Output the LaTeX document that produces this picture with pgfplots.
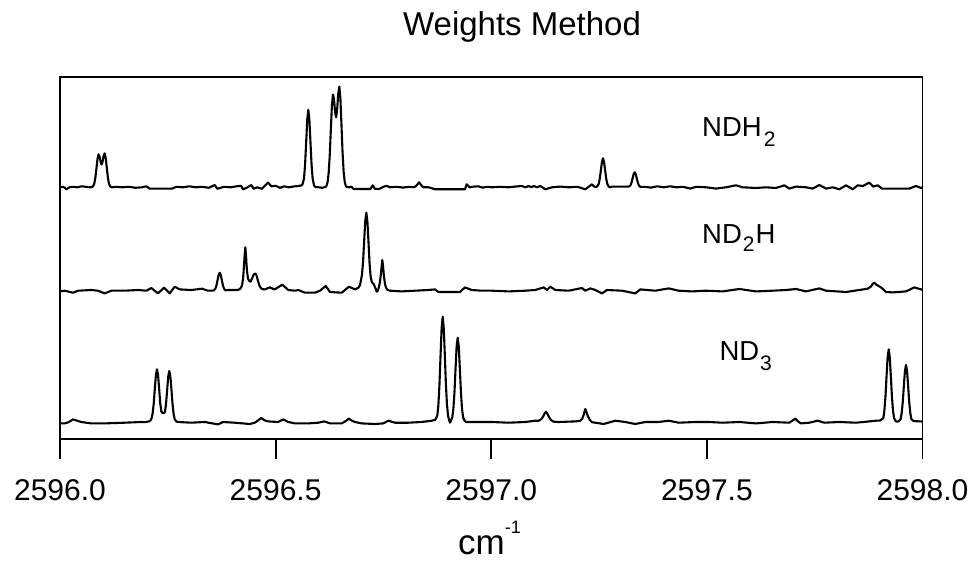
\documentclass[border=0pt]{standalone}
\usepackage{fontspec}
\setmainfont{Liberation Sans}
\usepackage{pgfplots}
\usepackage{pgfplotstable}
\pgfplotsset{compat=1.18}

\pgfplotstableread{
x y
2596.0000 0
2596.0080 0.5
2596.0150 -2
2596.0220 0
2596.0300 0.5
2596.0400 0
2596.0500 1
2596.0600 0.5
2596.0690 0
2596.0725 0.1
2596.0760 0.6
2596.0795 3.7
2596.0820 9.6
2596.0845 18.9
2596.0870 28.5
2596.0895 33.0
2596.0920 30.3
2596.0945 24.7
2596.0965 22.8
2596.0985 25.1
2596.1010 31.1
2596.1035 34.0
2596.1060 29.3
2596.1085 19.5
2596.1110 9.9
2596.1135 3.8
2596.1170 0.6
2596.1205 0
2596.1300 0.5
2596.1450 0
2596.1600 0.5
2596.1750 -0.5
2596.1900 0
2596.2000 1
2596.2080 -1.3
2596.2600 -1.3
2596.2700 0.5
2596.2850 0
2596.3000 1
2596.3150 0
2596.3300 0.5
2596.3450 -0.5
2596.3587 2.3
2596.3650 -1.5
2596.3800 0.5
2596.3950 0
2596.4100 1
2596.4200 1.5
2596.4240 -2
2596.4330 -0.5
2596.4436 2.3
2596.4490 -1.5
2596.4570 0
2596.4680 -1.5
2596.4760 2
2596.4823 4.7
2596.4900 1
2596.5000 1.5
2596.5100 -0.5
2596.5200 1
2596.5300 0
2596.5450 1
2596.5520 1.2
2596.5588 1.8
2596.5623 2.8
2596.5658 8.8
2596.5683 22.9
2596.5708 45.0
2596.5733 67.7
2596.5758 77.5
2596.5783 67.7
2596.5808 45.0
2596.5833 22.9
2596.5858 8.8
2596.5893 1.5
2596.5928 0.2
2596.6000 0
2596.6080 -0.5
2596.6155 0.3
2596.6180 1.4
2596.6205 5.1
2596.6230 14.3
2596.6255 32.1
2596.6280 57.4
2596.6305 81.5
2596.6330 92.8
2596.6355 87.4
2596.6380 74.7
2596.6403 69.9
2596.6425 77.1
2596.6450 92.8
2596.6477 100.7
2596.6502 88.6
2596.6527 62.4
2596.6552 34.9
2596.6577 15.5
2596.6602 5.5
2596.6627 1.5
2596.6652 0.3
2596.6700 0
2596.6750 0.7
2596.6810 -1.7
2596.7200 -1.7
2596.7251 2
2596.7300 -1.5
2596.7400 -1.7
2596.7500 0.5
2596.7575 1.5
2596.7650 0
2596.7800 0.5
2596.7950 -0.3
2596.8100 0.5
2596.8200 0
2596.8250 1
2596.8290 3
2596.8325 5
2596.8370 2.5
2596.8420 0
2596.8550 0
2596.8696 -2
2596.9391 -2
2596.9430 3
2596.9500 0
2596.9600 0.7
2596.9700 1
2596.9800 -0.3
2596.9900 0.5
2597.0017 0
2597.0200 0.5
2597.0404 0
2597.0550 0.7
2597.0713 1.3
2597.0790 0
2597.0868 1.3
2597.0930 0
2597.0984 1.3
2597.1060 0
2597.1137 1.3
2597.1254 -2
2597.1408 0
2597.1600 0.7
2597.1796 0
2597.2000 0.5
2597.2181 -2
2597.2336 3
2597.2380 1
2597.2421 0.3
2597.2456 0.7
2597.2491 3.3
2597.2516 8.6
2597.2541 16.8
2597.2566 25.3
2597.2591 29
2597.2616 25.3
2597.2641 16.8
2597.2666 8.6
2597.2691 3.3
2597.2726 0.6
2597.2761 0
2597.2800 0.7
2597.3187 0.7
2597.3226 1.7
2597.3251 4.4
2597.3276 8.7
2597.3301 13.1
2597.3326 15
2597.3351 13.1
2597.3376 8.7
2597.3401 4.4
2597.3426 1.7
2597.3461 0.3
2597.3550 0.5
2597.3700 -0.3
2597.3850 1
2597.4000 0
2597.4150 1
2597.4300 0
2597.4450 0.5
2597.4616 -1.3
2597.4750 0.5
2597.4980 0
2597.5211 -1.3
2597.5443 0
2597.5675 2
2597.5830 0
2597.6139 -0.7
2597.6371 0
2597.6603 -0.7
2597.6796 2
2597.6911 -1.3
2597.7066 0.7
2597.7298 0
2597.7453 -1.3
2597.7607 2.3
2597.7762 -1.3
2597.7917 0
2597.8071 -2
2597.8226 2
2597.8381 -2
2597.8497 2
2597.8613 1.3
2597.8767 4.7
2597.8859 0.7
2597.8961 2
2597.9061 -1.3
2597.9694 -1.3
2597.9849 1.3
2597.9965 -0.7
2598.0000 0
}\ndhtwo

\pgfplotstableread{
x y
2596.0000 -0.7
2596.0108 0
2596.0301 -2
2596.0417 0
2596.0726 0.7
2596.0881 0
2596.1036 -2.7
2596.1190 0
2596.1499 0
2596.1809 0.7
2596.2002 0
2596.2118 2.7
2596.2272 -2.7
2596.2412 3
2596.2544 -2.7
2596.2659 4
2596.2776 1.3
2596.3045 0.7
2596.3293 2
2596.3432 0
2596.3533 0
2596.3568 0.3
2596.3603 2
2596.3628 5.3
2596.3653 10.5
2596.3678 15.7
2596.3703 18
2596.3728 15.7
2596.3753 10.5
2596.3778 5.3
2596.3803 2
2596.3838 0.3
2596.3896 0.7
2596.4127 0.7
2596.4180 2
2596.4220 5
2596.4245 12
2596.4265 24
2596.4282 36
2596.4297 43.4
2596.4315 34
2596.4335 20
2596.4360 12
2596.4395 9.5
2596.4421 9
2596.4450 12
2596.4490 16
2596.4520 17
2596.4538 17
2596.4560 15
2596.4590 10
2596.4625 5
2596.4660 2.5
2596.4700 1.5
2596.4747 1.3
2596.4862 3.3
2596.4978 1.3
2596.5155 6
2596.5294 0.7
2596.5449 0
2596.5526 0.7
2596.5681 -2
2596.5913 -2
2596.6029 0
2596.6161 4.7
2596.6261 -1.3
2596.6532 -2
2596.6701 4
2596.6840 1.3
2596.6920 3
2596.6957 5.7
2596.7003 16
2596.7028 29.5
2596.7053 50
2596.7078 69.5
2596.7103 78
2596.7128 69.5
2596.7153 49.1
2596.7178 27.5
2596.7203 14
2596.7228 9
2596.7250 7.5
2596.7275 6.5
2596.7310 3
2596.7345 -1
2596.7370 0
2596.7395 3.5
2596.7420 9
2596.7445 18
2596.7460 25
2596.7474 30.7
2596.7490 25
2596.7510 15
2596.7535 7
2596.7560 3
2596.7590 1
2596.7652 0
2596.7923 -0.7
2596.8232 0
2596.8540 0.7
2596.8696 1.3
2596.8773 -1.3
2596.9275 -1.3
2596.9391 3.3
2596.9546 0.7
2596.9778 0
2597.0010 0
2597.0404 -0.7
2597.0790 0
2597.1021 0.7
2597.1216 3.3
2597.1293 0.7
2597.1369 4
2597.1485 0.7
2597.1796 0
2597.2104 2.7
2597.2181 0
2597.2297 2.3
2597.2413 0.7
2597.2568 -2.7
2597.2684 0.7
2597.3032 0
2597.3340 -2.7
2597.3456 1.3
2597.3804 0
2597.4114 2.3
2597.4346 0
2597.4655 -0.7
2597.4964 0
2597.5366 -0.7
2597.5752 1.7
2597.6139 -0.7
2597.6526 0
2597.6835 0.7
2597.7066 1.7
2597.7298 -0.7
2597.7607 2.3
2597.7762 0
2597.8226 -1.3
2597.8535 0.7
2597.8729 2
2597.8800 4
2597.8850 7
2597.8883 8
2597.8930 6
2597.9038 3.3
2597.9154 -1.3
2597.9308 -1.7
2597.9617 -0.7
2597.9810 3.3
2597.9965 1.3
2598.0000 1
}\ndtwoh

\pgfplotstableread{
x y
2596.0000 -0.7
2596.0108 -0.7
2596.0200 0.5
2596.0301 3.3
2596.0494 0.7
2596.0726 -0.7
2596.1036 -0.7
2596.1499 0
2596.1885 0.7
2596.1950 0.5
2596.2057 1.2
2596.2100 2.2
2596.2124 4.5
2596.2149 9.5
2596.2174 19.5
2596.2199 34
2596.2224 47.5
2596.2249 53.4
2596.2274 47.5
2596.2299 34
2596.2324 19.5
2596.2349 11.5
2596.2372 10
2596.2395 9.4
2596.2418 10
2596.2435 11
2596.2460 19.5
2596.2485 33
2596.2510 46.5
2596.2535 51.7
2596.2560 46
2596.2585 32.5
2596.2610 18.5
2596.2635 8.5
2596.2660 3.5
2596.2697 1.2
2596.2740 0.7
2596.3045 0
2596.3355 0.7
2596.3664 -1.7
2596.3780 0.7
2596.4051 0
2596.4399 -1.3
2596.4515 0
2596.4600 2.5
2596.4668 4.7
2596.4740 2.5
2596.4823 1.3
2596.5055 0.7
2596.5178 3.3
2596.5294 0.7
2596.5449 -0.7
2596.5758 -0.7
2596.5990 0
2596.6129 1.3
2596.6261 -0.7
2596.6532 -0.7
2596.6620 1.5
2596.6701 4
2596.6770 2
2596.6840 0.7
2596.6996 -0.7
2596.7304 -1.3
2596.7497 -0.7
2596.7613 2
2596.7768 0
2596.8077 0
2596.8387 0.7
2596.8619 2
2596.8700 2.8
2596.8749 7
2596.8774 17.5
2596.8799 38
2596.8824 67
2596.8849 94.5
2596.8874 106
2596.8899 94.5
2596.8924 67
2596.8949 38
2596.8974 17.5
2596.8999 7
2596.9022 2.5
2596.9043 0
2596.9065 2
2596.9097 5.5
2596.9122 14
2596.9147 30.5
2596.9172 54
2596.9197 76
2596.9222 85
2596.9247 76
2596.9272 54
2596.9297 30.5
2596.9322 14
2596.9347 5.5
2596.9380 2
2596.9420 0.7
2596.9623 0.7
2597.0010 0.7
2597.0404 0
2597.0790 0.7
2597.1021 2
2597.1100 2
2597.1160 3.5
2597.1200 6
2597.1235 9
2597.1269 11
2597.1300 9
2597.1340 5.5
2597.1390 2.5
2597.1447 1
2597.1564 0.7
2597.1949 1.3
2597.2065 2
2597.2110 4
2597.2145 8
2597.2165 11.5
2597.2181 13.7
2597.2205 11
2597.2240 6.5
2597.2290 2.5
2597.2336 0.5
2597.2607 -1.3
2597.2877 2
2597.3109 0.7
2597.3340 -1.3
2597.3572 0.7
2597.3882 0.7
2597.4114 2
2597.4346 0
2597.4732 0.7
2597.5042 0.7
2597.5366 0
2597.5752 0.7
2597.6139 -0.7
2597.6526 0.7
2597.6911 0
2597.6980 2
2597.7050 4
2597.7120 1
2597.7183 -0.7
2597.7375 0
2597.7569 2
2597.7723 0
2597.8071 0.7
2597.8458 0
2597.8767 1.3
2597.8922 2
2597.9020 2.2
2597.9091 4.5
2597.9116 12
2597.9141 26
2597.9166 46.5
2597.9191 65.5
2597.9216 73.4
2597.9241 65.5
2597.9266 46.5
2597.9291 26
2597.9316 12
2597.9341 4.5
2597.9380 1.5
2597.9410 1
2597.9450 1.5
2597.9492 3.5
2597.9517 9.5
2597.9542 20.5
2597.9567 36.5
2597.9592 51.5
2597.9617 57.7
2597.9642 51.5
2597.9667 36.5
2597.9692 20.5
2597.9717 9.5
2597.9742 3.5
2597.9790 1.8
2597.9849 1.5
2597.9965 1.3
2598.0000 1
}\ndthree

\begin{document}
\begin{tikzpicture}
\path[use as bounding box] (0,0) rectangle (974pt,560pt);
\begin{axis}[
  at={(60pt,121pt)}, anchor=south west,
  scale only axis, width=862.5pt, height=362pt,
  xmin=2596, xmax=2598, ymin=0, ymax=362,
  axis line style={line width=1.8pt},
  ytick=\empty,
  xtick={2596,2596.5,2597,2597.5,2598},
  xticklabels={2596.0,2596.5,2597.0,2597.5,2598.0},
  scaled x ticks=false,
  xtick pos=bottom,
  xtick align=outside,
  major tick length=20pt,
  every major tick/.append style={draw=black, line width=1.9pt},
  xticklabel style={font=\fontsize{30}{36}\selectfont, anchor=north, inner sep=0pt, yshift=-20pt},
  title={Weights Method},
  title style={font=\fontsize{33}{38}\selectfont, at={(axis description cs:0.5357,1.0994)}, anchor=base, inner sep=0pt},
  xlabel={cm\raisebox{21pt}{\fontsize{18}{22}\selectfont -1}},
  xlabel style={font=\fontsize{35}{40}\selectfont, at={(axis description cs:0.498,-0.3177)}, anchor=base, inner sep=0pt},
  clip=true,
]
\addplot[black, line width=2.1pt, line join=round] table[x=x, y expr=\thisrow{y}+251.7] {\ndhtwo};
\addplot[black, line width=2.1pt, line join=round] table[x=x, y expr=\thisrow{y}+148.3] {\ndtwoh};
\addplot[black, line width=2.1pt, line join=round] table[x=x, y expr=\thisrow{y}+16.3] {\ndthree};
\node[anchor=base west, inner sep=0pt, font=\fontsize{27.5}{32}\selectfont] at (axis cs:2597.4887,302.3) {NDH\kern2pt\raisebox{-10pt}{\fontsize{21}{24}\selectfont 2}};
\node[anchor=base west, inner sep=0pt, font=\fontsize{27.5}{32}\selectfont] at (axis cs:2597.4887,195.7) {ND\kern1pt\raisebox{-8pt}{\fontsize{21}{24}\selectfont 2}\kern1pt H};
\node[anchor=base west, inner sep=0pt, font=\fontsize{27.5}{32}\selectfont] at (axis cs:2597.5288,79) {ND\kern1pt\raisebox{-10pt}{\fontsize{21}{24}\selectfont 3}};
\end{axis}
\end{tikzpicture}
\end{document}
